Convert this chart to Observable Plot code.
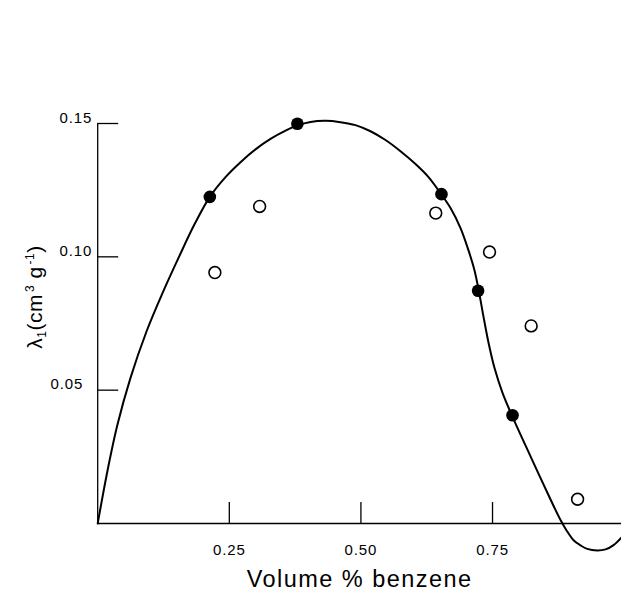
<!DOCTYPE html>
<html>
<head>
<meta charset="utf-8">
<script src="https://cdn.jsdelivr.net/npm/d3@7"></script>
<script src="https://cdn.jsdelivr.net/npm/@observablehq/plot@0.6"></script>
<style>
  html, body { margin: 0; padding: 0; background: #fff; }
  #chart svg { display: block; }
</style>
</head>
<body>
<div id="chart"></div>
<script>
// Fitted curve
const curveX = [0, 0.0186, 0.0376, 0.0623, 0.0927, 0.1231, 0.1535, 0.1839, 0.2130, 0.2428, 0.2713, 0.2998, 0.3283, 0.3568, 0.3796, 0.4043, 0.4328, 0.4613, 0.4897, 0.5182, 0.5467, 0.5752, 0.6037, 0.6284, 0.6525, 0.6702, 0.6892, 0.7044, 0.7158, 0.7240, 0.7329, 0.7424, 0.7538, 0.7690, 0.7874, 0.8222, 0.8602, 0.8792, 0.8906, 0.9045, 0.9172, 0.9299, 0.9489, 0.9647, 0.9799, 0.9951];
const curveY = [0, 0.0198, 0.0371, 0.0546, 0.0720, 0.0864, 0.0996, 0.1122, 0.1225, 0.1299, 0.1355, 0.1403, 0.1442, 0.1473, 0.1493, 0.1506, 0.1510, 0.1505, 0.1494, 0.1471, 0.1438, 0.1396, 0.1348, 0.1299, 0.1235, 0.1183, 0.1108, 0.1024, 0.0949, 0.0872, 0.0775, 0.0678, 0.0583, 0.0490, 0.0403, 0.0252, 0.0090, 0.0013, -0.0026, -0.0064, -0.0082, -0.0095, -0.0101, -0.0097, -0.0081, -0.0052];

// Filled circles
const filledX = [0.2130, 0.3793, 0.6530, 0.7226, 0.7880];
const filledY = [0.1225, 0.1499, 0.1235, 0.0873, 0.0406];

// Open circles
const openX = [0.2226, 0.3076, 0.6422, 0.7443, 0.8234, 0.9116];
const openY = [0.0941, 0.1189, 0.1164, 0.1018, 0.0741, 0.0091];

// Ticks
const xTicks = [0.25, 0.50, 0.75];
const xTickLabels = ["0.25", "0.50", "0.75"];
const yTicks = [0.05, 0.10, 0.15];
const yTickLabels = ["0.05", "0.10", "0.15"];

const xTitle = "Volume % benzene";
const yTitle = "λ1(cm3 g-1)";

const curve = curveX.map((x, i) => ({x, y: curveY[i]}));
const filled = filledX.map((x, i) => ({x, y: filledY[i]}));
const open = openX.map((x, i) => ({x, y: openY[i]}));
const xT = xTicks.map((v, i) => ({v, label: xTickLabels[i]}));
const yT = yTicks.map((v, i) => ({v, label: yTickLabels[i]}));

const W = 621, H = 590, mL = 97.2, mR = 0, mT = 123, mB = 67;
const frameW = W - mL - mR, frameH = H - mT - mB;
const font = "'Liberation Sans', Arial, Helvetica, sans-serif";

const chart = Plot.plot({
  width: W,
  height: H,
  marginLeft: mL,
  marginRight: mR,
  marginTop: mT,
  marginBottom: mB,
  style: {fontFamily: font, background: "white", color: "black", overflow: "visible"},
  x: {domain: [0, 0.995], axis: null},
  y: {domain: [0, 0.15], axis: null},
  marks: [
    Plot.ruleY([0], {stroke: "black", strokeWidth: 1.3}),
    Plot.ruleX([0], {y1: 0, y2: 0.15, stroke: "black", strokeWidth: 1.3}),
    Plot.tickX(xT, {x: "v", stroke: "black", strokeWidth: 1.3, insetTop: frameH - 21}),
    Plot.tickY(yT, {y: "v", stroke: "black", strokeWidth: 1.3, insetRight: frameW - 21}),
    Plot.text(xT, {x: "v", y: () => 0, text: "label", dy: 27, fontSize: 15, fill: "black"}),
    Plot.text(yT.filter(d => d.v !== 0.05), {x: () => 0, y: "v", text: "label", textAnchor: "end", dx: -5.5, dy: -5.5, fontSize: 15, fill: "black"}),
    Plot.text(yT.filter(d => d.v === 0.05), {x: () => 0, y: "v", text: "label", textAnchor: "end", dx: -14.5, dy: -5.5, fontSize: 15, fill: "black"}),
    Plot.line(curve, {x: "x", y: "y", curve: "catmull-rom", stroke: "black", strokeWidth: 2}),
    Plot.dot(filled, {x: "x", y: "y", r: 6.3, fill: "black", stroke: "none"}),
    Plot.dot(open, {x: "x", y: "y", r: 5.9, fill: "white", stroke: "black", strokeWidth: 1.6}),
    Plot.text([xTitle], {frameAnchor: "bottom", text: d => d, textAnchor: "middle", lineAnchor: "middle", dy: 55.5, fontSize: 23.5, fill: "black"}),
    Plot.text([yTitle], {frameAnchor: "left", text: d => d, textAnchor: "middle", lineAnchor: "middle", rotate: -90, dx: -62.2, dy: -26.5, fontSize: 21, fill: "black"})
  ]
});

// letter spacing for tick labels and titles
d3.select(chart).selectAll("text").each(function() {
  const t = this.textContent;
  if (/^0\.\d\d$/.test(t)) this.setAttribute("letter-spacing", "0.9");
  if (t === xTitle) this.setAttribute("letter-spacing", "1.45");
});

// rich y title with subscript/superscripts
d3.select(chart).selectAll("text").filter(function() { return this.textContent === yTitle; }).each(function() {
  const t = d3.select(this);
  t.text(null).attr("letter-spacing", "0.5");
  t.append("tspan").text("λ");
  t.append("tspan").attr("font-size", 12).attr("dy", 4).text("1");
  t.append("tspan").attr("dy", -4).text("(cm");
  t.append("tspan").attr("font-size", 12).attr("dy", -8).attr("dx", 2).text("3");
  t.append("tspan").attr("dy", 8).text(" g");
  t.append("tspan").attr("font-size", 12).attr("dy", -8).attr("dx", 2).text("-1");
  t.append("tspan").attr("dy", 8).text(")");
});

document.getElementById("chart").appendChild(chart);
</script>
</body>
</html>
